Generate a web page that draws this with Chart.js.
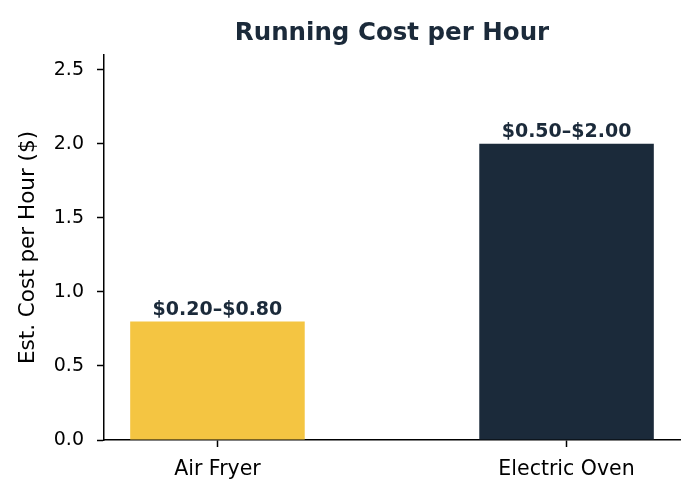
<!DOCTYPE html>
<html>
<head>
<meta charset="utf-8">
<script src="https://cdn.jsdelivr.net/npm/chart.js@4/dist/chart.umd.min.js"></script>
<style>
  html, body { margin: 0; padding: 0; background: #fff; }
  #wrap { width: 700px; height: 499px; }
</style>
</head>
<body>
<div id="wrap"><canvas id="graficaCoste"></canvas></div>
<script>
// datos
const categorias = ['Air Fryer', 'Electric Oven'];
const costes = [0.8, 2.0];
const etiquetas = ['$0.20–$0.80', '$0.50–$2.00'];
const colores = ['#F4C542', '#1B2A3A'];
const ticksY = [0, 0.5, 1.0, 1.5, 2.0, 2.5];

const FUENTE = "'DejaVu Sans', sans-serif";
const NAVY = '#1B2A3A';

// título y etiquetas encima de las barras
const textosPlugin = {
  id: 'textos',
  afterDatasetsDraw(chart) {
    const ctx = chart.ctx;
    const area = chart.chartArea;
    ctx.save();
    ctx.fillStyle = NAVY;
    ctx.textAlign = 'center';
    ctx.textBaseline = 'alphabetic';
    ctx.font = 'bold 24.5px ' + FUENTE;
    ctx.fillText('Running Cost per Hour', (area.left + area.right) / 2, 40);

    ctx.font = 'bold 19px ' + FUENTE;
    chart.getDatasetMeta(0).data.forEach((barra, i) => {
      ctx.fillText(etiquetas[i], barra.x, barra.y - 7);
    });
    ctx.restore();
  }
};

new Chart(document.getElementById('graficaCoste'), {
  type: 'bar',
  data: {
    datasets: [{
      data: categorias.map((c, i) => ({ x: i, y: costes[i] })),
      backgroundColor: colores,
      borderWidth: 0,
      barPercentage: 0.5,
      categoryPercentage: 1.0
    }]
  },
  options: {
    responsive: true,
    maintainAspectRatio: false,
    animation: false,
    layout: { padding: { top: 55, right: 20, left: 0, bottom: 0 } },
    plugins: {
      legend: { display: false },
      tooltip: { enabled: false }
    },
    scales: {
      x: {
        type: 'linear',
        min: -0.325,
        max: 1.325,
        offset: false,
        afterBuildTicks(scale) {
          scale.ticks = categorias.map((c, i) => ({ value: i }));
        },
        afterFit(scale) { scale.height = 59; },
        ticks: {
          callback: v => categorias[v],
          color: '#000',
          font: { family: FUENTE, size: 20.5 },
          padding: 10,
          maxRotation: 0,
          autoSkip: false
        },
        grid: {
          offset: false,
          drawOnChartArea: false,
          drawTicks: true,
          tickLength: 7,
          tickColor: '#000',
          tickWidth: 1.5
        },
        border: { display: true, color: '#000', width: 1.5 }
      },
      y: {
        min: 0,
        max: 2.6,
        afterBuildTicks(scale) {
          scale.ticks = ticksY.map(v => ({ value: v }));
        },
        afterFit(scale) { scale.width = 104; },
        ticks: {
          callback: v => Number(v).toFixed(1),
          color: '#000',
          font: { family: FUENTE, size: 19 },
          padding: 13
        },
        grid: {
          drawOnChartArea: false,
          drawTicks: true,
          tickLength: 7,
          tickColor: '#000',
          tickWidth: 1.5
        },
        border: { display: true, color: '#000', width: 1.5 },
        title: {
          display: true,
          text: 'Est. Cost per Hour ($)',
          color: '#000',
          font: { family: FUENTE, size: 21.5 },
          padding: { top: 16, bottom: 0 }
        }
      }
    }
  },
  plugins: [textosPlugin]
});
</script>
</body>
</html>
